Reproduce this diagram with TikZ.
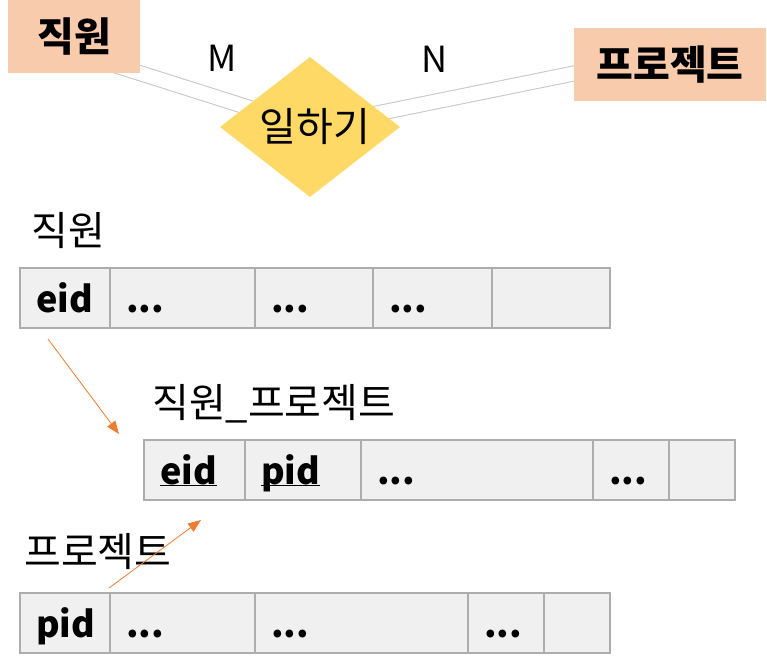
\documentclass[tikz,border=0pt]{standalone}
\usepackage{fontspec}
\setmainfont{Noto Sans CJK KR}
\usetikzlibrary{shapes.geometric,backgrounds,arrows.meta}
\definecolor{entityfill}{HTML}{F8CBAD}
\definecolor{relfill}{HTML}{FFD966}
\definecolor{cellfill}{HTML}{F0F0F0}
\definecolor{cellline}{HTML}{ADADAD}
\definecolor{linkline}{HTML}{C6C6C6}
\definecolor{fkline}{HTML}{ED7D31}
\def\pad{16}
\def\more{...}
\newcommand\hangulsize{\fontsize{40pt}{44pt}\selectfont}

\begin{document}
\begin{tikzpicture}[x=1pt,y=-1pt,
    entity/.style={fill=entityfill,inner sep=0pt,font=\hangulsize\bfseries},
    relation/.style={diamond,fill=relfill,minimum width=180pt,
      minimum height=140pt,inner sep=0pt,font=\hangulsize},
    link/.style={draw=linkline,line width=1pt,double=white,
      double distance=14pt,shorten <=-30pt},
    cell/.style={draw=cellline,fill=cellfill,line width=1.5pt,
      minimum height=60pt,outer sep=0pt,inner xsep=\pad pt,
      text height=30pt,text depth=2pt,anchor=north west},
    title/.style={anchor=base west,inner sep=0pt,font=\hangulsize},
    fk/.style={draw=fkline,line width=0.8pt,
      -{Triangle[length=13pt,width=10pt]}}]%
\fontsize{36pt}{40pt}\selectfont%
  \useasboundingbox (0,0) rectangle (767,670);%
  % ER part
  \node[entity,minimum width=132pt,minimum height=73pt] (empent)
    at (74,36.5) {직원};%
  \node[entity,minimum width=192pt,minimum height=73pt] (prjent)
    at (670,64.5) {프로젝트};%
  \node[relation] (work) at (310,127) {\makebox[0pt]{\hspace{10pt}일하기}};%
  \node (many) at (222,58) {M};%
  \node (other) at (435,59) {N};%
  \begin{scope}[on background layer]
    \draw[link] (empent.south east) -- (work.center);%
    \draw[link] ([yshift=-9pt]prjent.west) -- (work.center);%
  \end{scope}
  % Tables
  \node[title] (empname) at (31,245) {직원};%
  \foreach \x/\w/\t [count=\i] in {%
      20/90/eid,%
      110/145/\more,%
      255/118/\more,%
      373/119/\more,%
      492/118/%
    } {%
      \node[cell,minimum width=\w pt] (emp\i) at (\x,268)%
        {\makebox[\dimexpr\w pt-2\dimexpr\pad pt\relax\relax][l]{\bfseries\t}};%
    };%
  \node[title] (lnkname) at (152,417) {직원\_프로젝트};%
  \foreach \x/\w/\t [count=\i] in {%
      144/101/\underline{\smash{eid}},%
      245/116/\underline{\smash{pid}},%
      361/232/\more,%
      593/76/\more,%
      669/66/%
    } {%
      \node[cell,minimum width=\w pt] (lnk\i) at (\x,440)%
        {\makebox[\dimexpr\w pt-2\dimexpr\pad pt\relax\relax][l]{\bfseries\t}};%
    };%
  \node[title] (prjname) at (24,566) {프로젝트};%
  \foreach \x/\w/\t [count=\i] in {%
      20/90/pid,%
      110/145/\more,%
      255/213/\more,%
      468/76/\more,%
      544/66/%
    } {%
      \node[cell,minimum width=\w pt] (prj\i) at (\x,593)%
        {\makebox[\dimexpr\w pt-2\dimexpr\pad pt\relax\relax][l]{\bfseries\t}};%
    };%
  % Foreign keys
  \draw[fk] ([xshift=-17pt,yshift=-11pt]emp1.south)
    -- ([xshift=-25pt,yshift=6pt]lnk1.north west);%
  \draw[fk] ([xshift=-1pt,yshift=5pt]prj1.north east)
    -- ([xshift=6.5pt,yshift=-20pt]lnk1.south);%
\end{tikzpicture}
\end{document}
